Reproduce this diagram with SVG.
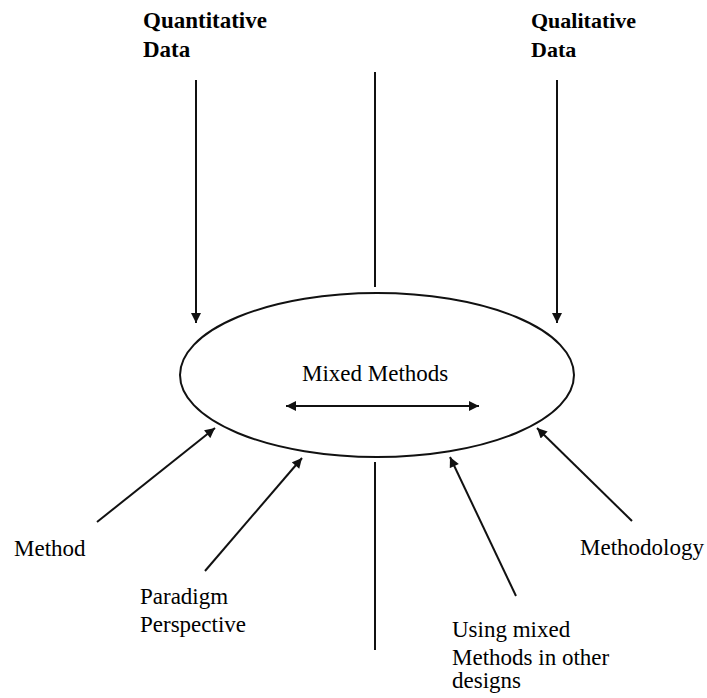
<svg xmlns="http://www.w3.org/2000/svg" width="707" height="698" viewBox="0 0 707 698">
<defs>
<marker id="ah" viewBox="0 0 10 10" refX="10" refY="5" markerWidth="5.5" markerHeight="5" orient="auto-start-reverse" markerUnits="strokeWidth">
<path d="M0,0 L10,5 L0,10 Z" fill="#111"/>
</marker>
</defs>
<rect width="707" height="698" fill="#fff"/>
<g id="connectors" stroke="#111" stroke-width="2" fill="none">
<line x1="196" y1="80" x2="196" y2="323" marker-end="url(#ah)"/>
<line x1="557" y1="80" x2="557" y2="323" marker-end="url(#ah)"/>
<line x1="375" y1="72" x2="375" y2="287"/>
<line x1="375" y1="462" x2="375" y2="650"/>
<line x1="286" y1="406" x2="479" y2="406" marker-start="url(#ah)" marker-end="url(#ah)"/>
<line x1="97" y1="522" x2="215" y2="428" marker-end="url(#ah)"/>
<line x1="205" y1="571" x2="302" y2="458" marker-end="url(#ah)"/>
<line x1="516" y1="596" x2="450" y2="457" marker-end="url(#ah)"/>
<line x1="632" y1="521" x2="537" y2="428" marker-end="url(#ah)"/>
</g>
<g id="mixed-methods">
<ellipse cx="377" cy="375" rx="197" ry="82" stroke="#111" stroke-width="2" fill="none"/>
<text font-family="Times New Roman" font-size="23" x="302" y="381">Mixed Methods</text>
</g>
<g id="quantitative">
<text font-family="Times New Roman" font-size="23" font-weight="bold" x="143" y="28">Quantitative</text>
<text font-family="Times New Roman" font-size="23" font-weight="bold" x="143" y="57">Data</text>
</g>
<g id="qualitative">
<text font-family="Times New Roman" font-size="22" font-weight="bold" x="531" y="28">Qualitative</text>
<text font-family="Times New Roman" font-size="22" font-weight="bold" x="531" y="57">Data</text>
</g>
<g id="method">
<text font-family="Times New Roman" font-size="23" x="14" y="556">Method</text>
</g>
<g id="paradigm">
<text font-family="Times New Roman" font-size="23" x="140" y="604">Paradigm</text>
<text font-family="Times New Roman" font-size="23" x="140" y="632">Perspective</text>
</g>
<g id="using">
<text font-family="Times New Roman" font-size="23" x="452" y="637">Using mixed</text>
<text font-family="Times New Roman" font-size="23" x="452" y="665">Methods in other</text>
<text font-family="Times New Roman" font-size="23" x="452" y="688">designs</text>
</g>
<g id="methodology">
<text font-family="Times New Roman" font-size="23" x="580" y="555">Methodology</text>
</g>
</svg>
